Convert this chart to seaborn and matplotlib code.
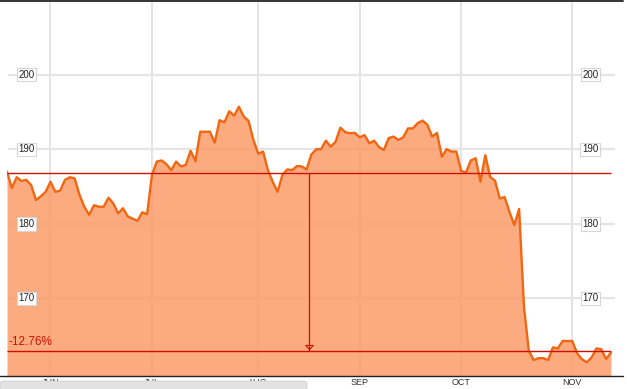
import numpy as np
import pandas as pd
import matplotlib
matplotlib.use("Agg")
import matplotlib.pyplot as plt
import matplotlib.transforms as mtransforms
from matplotlib.patches import FancyBboxPatch
from matplotlib.lines import Line2D
import seaborn as sns

# ---- data ----
prices = [
    187.0, 184.8, 186.25, 185.75, 185.9, 185.2, 183.2, 183.7, 184.3, 185.65,
    184.3, 184.45, 185.9, 186.25, 186.1, 183.9, 182.3, 181.2, 182.5, 182.3,
    182.3, 183.5, 182.75, 181.4, 182.1, 181.0, 180.7, 180.4, 181.55, 181.3,
    186.55, 188.35, 188.5, 188.0, 187.2, 188.35, 187.7, 187.9, 189.8, 188.4,
    192.35, 192.35, 192.35, 190.9, 193.9, 193.6, 195.1, 194.5, 195.7, 194.4,
    193.8, 191.25, 189.4, 189.7, 187.2, 185.65, 184.3, 186.55, 187.3, 187.2,
    187.75, 187.7, 187.3, 189.3, 190.0, 190.0, 191.15, 190.35, 191.0, 192.9,
    192.3, 192.15, 192.2, 191.6, 191.9, 190.8, 191.15, 190.3, 189.9, 191.5,
    191.7, 191.25, 191.6, 192.8, 192.8, 193.5, 193.85, 193.3, 191.7, 192.2,
    189.0, 190.0, 189.7, 189.7, 187.1, 186.9, 188.5, 188.8, 185.65, 189.2,
    186.3, 185.8, 183.4, 183.6, 181.6, 179.85, 182.0, 168.9, 163.0, 161.75,
    162.0, 162.0, 161.75, 163.45, 163.3, 164.3, 164.3, 164.3, 162.65, 161.85,
    161.45, 162.1, 163.3, 163.2, 161.9, 162.75,
]
month_labels = ["JUN", "JUL", "AUG", "SEP", "OCT", "NOV"]
month_start_idx = [9, 30, 52, 73, 94, 117]
y_ticks = [170, 180, 190, 200]
baseline_value = 186.85
change_pct = -12.76
cursor_idx = 62.6

df = pd.DataFrame({"day": np.arange(len(prices)), "price": prices})
lower_value = baseline_value * (1 + change_pct / 100)

# ---- figure ----
sns.set_style("white")
plt.rcParams["font.family"] = ["Liberation Sans", "DejaVu Sans"]

W, H = 627, 389
fig = plt.figure(figsize=(W / 100, H / 100), dpi=100)
fig.patch.set_facecolor("white")
ax = fig.add_axes([7 / W, 13 / H, 616 / W, 376 / H])
ax.set_facecolor("white")

y_min, y_max = 159.61, 210.01
ax.set_xlim(0, 127.5)
ax.set_ylim(y_min, y_max)

grid_c = "#e4e4e4"
for m in month_start_idx:
    ax.axvline(m, color=grid_c, lw=1.5, zorder=0)
ax.hlines(y_ticks, 0.2, 125.9, color=grid_c, lw=1.5, zorder=0)

# area + line
ax.fill_between(df["day"], df["price"], y_min, color=(251 / 255, 157 / 255, 106 / 255),
                alpha=0.86, lw=0, zorder=1)
sns.lineplot(data=df, x="day", y="price", color="#f26610", lw=1.7, ax=ax, zorder=3)

# measurement lines
red = "#cc1100"
ax.hlines([baseline_value, lower_value], 0, len(prices) - 1, color=red, lw=1.0, zorder=4)
ax.vlines(cursor_idx, lower_value, baseline_value, color=red, lw=0.9, zorder=4)
tri_tr = mtransforms.offset_copy(ax.transData, fig=fig, y=2.3, units="points")
ax.plot([cursor_idx], [lower_value], transform=tri_tr, marker=[(-1, 0.55), (1, 0.55), (0, -0.55), (-1, 0.55)],
        ms=5.5, mfc="none", mec=red, mew=0.8, zorder=5)
ax.annotate(f"{change_pct:.2f}%", xy=(0, lower_value), xytext=(0.8, 3.8), textcoords="offset points",
            ha="left", va="baseline", color=red, fontsize=8.5, zorder=6)

# y tick labels in boxes, left and right
blend = mtransforms.blended_transform_factory(ax.transAxes, ax.transData)
for v in y_ticks:
    for xf in (0.0317, 0.947):
        ax.text(xf, v, str(v), transform=blend, ha="center", va="center", fontsize=7,
                color="#222222", zorder=7,
                bbox=dict(boxstyle="square,pad=0.18", fc="white", ec="#d6d6d6", lw=0.8))

ax.set_yticks([])
ax.set_xticks(month_start_idx, month_labels)
ax.tick_params(axis="x", length=0, pad=1.5, labelsize=6.5, labelcolor="#333333")
ax.set_xlabel("")
ax.set_ylabel("")
for s in ax.spines.values():
    s.set_visible(False)

# frame lines
fig.add_artist(Line2D([0, 623 / W], [1 - 0.8 / H] * 2, color="#333333", lw=1.4, transform=fig.transFigure))
fig.add_artist(Line2D([0, 623 / W], [13 / H] * 2, color="#222222", lw=1.0, transform=fig.transFigure))

# gray scroll bar covering the first labels
bar = FancyBboxPatch((0, -3 / H), 307 / W, 11 / H, boxstyle="round,pad=0,rounding_size=0.008",
                     transform=fig.transFigure, fc="#e2e2e2", ec="#cfcfcf", lw=0.6, zorder=10)
fig.patches.append(bar)

fig.savefig("out.png", dpi=100)
